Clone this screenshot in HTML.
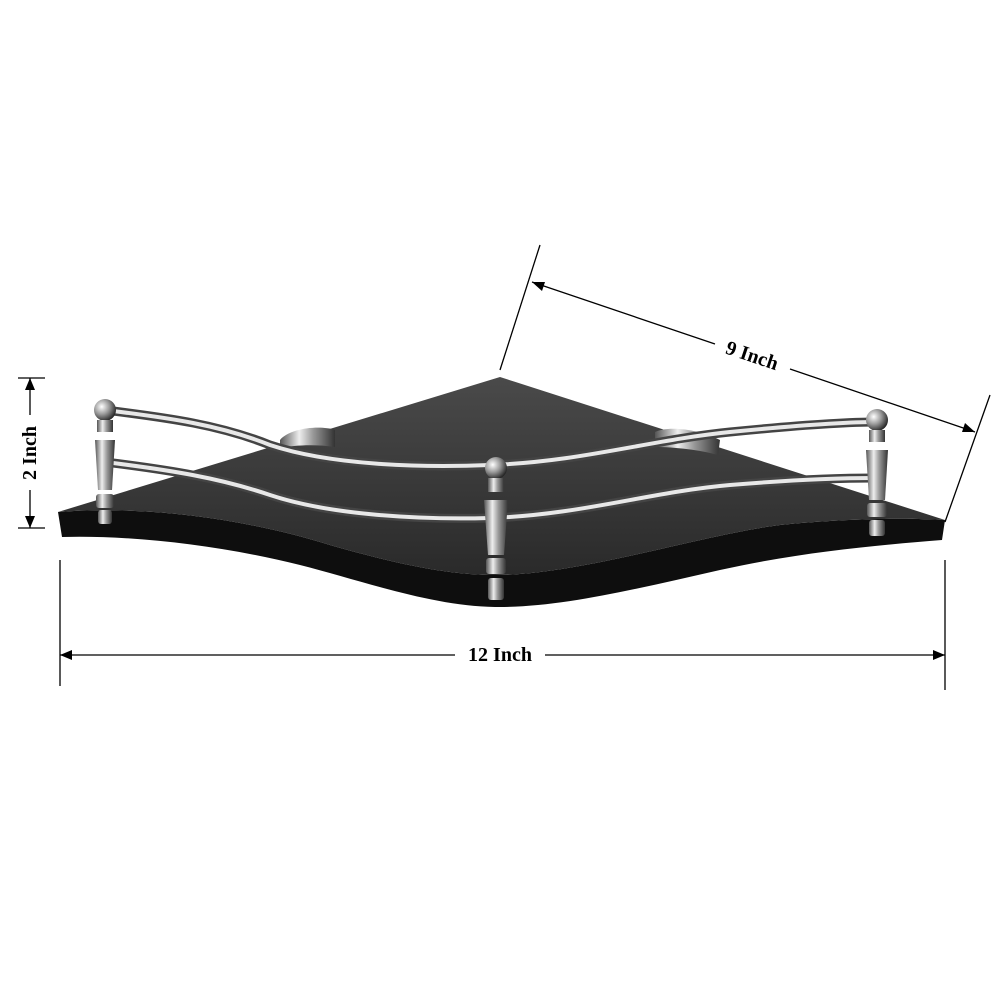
<!DOCTYPE html>
<html><head><meta charset="utf-8"><style>
html,body{margin:0;padding:0;background:#fff;}
svg{display:block;}
text{font-family:"Liberation Serif",serif;font-weight:bold;fill:#000;}
</style></head><body>
<svg width="1000" height="1000" viewBox="0 0 1000 1000">
<defs>
<linearGradient id="top" x1="0" y1="0" x2="0" y2="1">
<stop offset="0" stop-color="#4a4a4a"/><stop offset="1" stop-color="#2a2a2a"/></linearGradient>
<linearGradient id="metal" x1="0" y1="0" x2="1" y2="0">
<stop offset="0" stop-color="#555"/><stop offset="0.35" stop-color="#eee"/><stop offset="0.6" stop-color="#999"/><stop offset="1" stop-color="#333"/></linearGradient>
<radialGradient id="ball" cx="0.35" cy="0.35" r="0.7">
<stop offset="0" stop-color="#fff"/><stop offset="0.5" stop-color="#999"/><stop offset="1" stop-color="#222"/></radialGradient>
</defs>
<g>
<path d="M58,512 C150,505 250,520 330,545 C400,565 450,575 495,575 C580,575 700,535 780,525 C850,518 910,518 945,520 L942,540 C880,545 800,552 720,570 C640,588 560,608 495,607 C430,606 360,580 300,565 C220,545 130,535 62,537 Z" fill="#0e0e0e"/>
<path d="M500,377 L945,520 C910,518 850,518 780,525 C700,535 580,575 495,575 C450,575 400,565 330,545 C250,520 150,505 58,512 Z" fill="url(#top)"/>
</g>
<path d="M280,440 C290,428 320,425 335,430 L335,447 C315,444 295,445 280,448 Z" fill="url(#metal)"/>
<path d="M655,432 C670,425 700,430 720,440 L718,455 C700,450 675,447 655,447 Z" fill="url(#metal)"/>
<g fill="none" stroke-linecap="round">
<path d="M105,410 C170,418 220,425 270,445 C330,465 420,468 490,465 C580,462 650,440 730,432 C790,426 840,422 878,422" stroke="#444" stroke-width="9"/>
<path d="M105,410 C170,418 220,425 270,445 C330,465 420,468 490,465 C580,462 650,440 730,432 C790,426 840,422 878,422" stroke="#e8e8e8" stroke-width="4"/>
<path d="M105,462 C170,470 220,478 270,495 C330,515 420,520 490,518 C580,515 650,492 730,485 C790,480 840,478 875,478" stroke="#444" stroke-width="9"/>
<path d="M105,462 C170,470 220,478 270,495 C330,515 420,520 490,518 C580,515 650,492 730,485 C790,480 840,478 875,478" stroke="#e8e8e8" stroke-width="4"/>
</g>
<g>
<circle cx="105" cy="410" r="11" fill="url(#ball)"/>
<rect x="97" y="420" width="16" height="12" fill="url(#metal)"/>
<path d="M95,440 L115,440 L112,490 L98,490 Z" fill="url(#metal)"/>
<rect x="96" y="494" width="18" height="14" rx="3" fill="url(#metal)"/>
<rect x="98" y="510" width="14" height="14" rx="3" fill="url(#metal)"/>
</g>
<g>
<circle cx="496" cy="468" r="11" fill="url(#ball)"/>
<rect x="488" y="478" width="16" height="14" fill="url(#metal)"/>
<path d="M484,500 L508,500 L504,555 L488,555 Z" fill="url(#metal)"/>
<rect x="486" y="558" width="20" height="16" rx="3" fill="url(#metal)"/>
<rect x="488" y="578" width="16" height="22" rx="3" fill="url(#metal)"/>
</g>
<g>
<circle cx="877" cy="420" r="11" fill="url(#ball)"/>
<rect x="869" y="430" width="16" height="12" fill="url(#metal)"/>
<path d="M866,450 L888,450 L885,500 L869,500 Z" fill="url(#metal)"/>
<rect x="867" y="503" width="20" height="14" rx="3" fill="url(#metal)"/>
<rect x="869" y="520" width="16" height="16" rx="3" fill="url(#metal)"/>
</g>
<g stroke="#000" stroke-width="1.3" fill="none">
<line x1="60" y1="560" x2="60" y2="686"/>
<line x1="945" y1="560" x2="945" y2="690"/>
<line x1="60" y1="655" x2="455" y2="655"/>
<line x1="545" y1="655" x2="945" y2="655"/>
<line x1="540" y1="245" x2="500" y2="370"/>
<line x1="990" y1="395" x2="945" y2="522"/>
<line x1="532" y1="282" x2="715" y2="344"/>
<line x1="790" y1="369" x2="975" y2="432"/>
<line x1="18" y1="378" x2="45" y2="378"/>
<line x1="18" y1="528" x2="45" y2="528"/>
<line x1="30" y1="378" x2="30" y2="415"/>
<line x1="30" y1="490" x2="30" y2="528"/>
</g>
<g fill="#000">
<path d="M60,655 l12,-5 l0,10 z"/>
<path d="M945,655 l-12,-5 l0,10 z"/>
<path d="M532,282 l13,0 l-3,9 z"/>
<path d="M975,432 l-13,0 l3,-9 z"/>
<path d="M30,378 l-5,12 l10,0 z"/>
<path d="M30,528 l-5,-12 l10,0 z"/>
</g>
<text x="500" y="661" font-size="20" text-anchor="middle">12 Inch</text>
<text x="752" y="362" font-size="20" text-anchor="middle" transform="rotate(18.6 752 356)">9 Inch</text>
<text x="30" y="459" font-size="20" text-anchor="middle" transform="rotate(-90 30 453)">2 Inch</text>
</svg>
</body></html>
